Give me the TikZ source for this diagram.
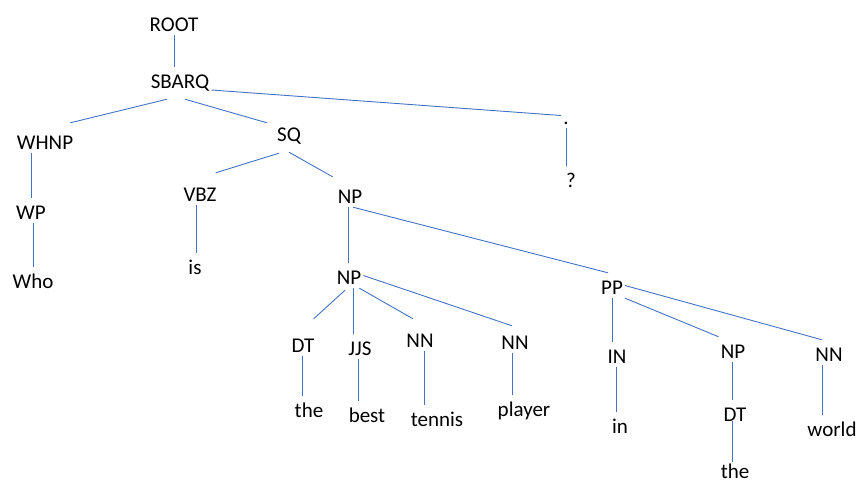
\documentclass[tikz,border=0pt]{standalone}
\usepackage{fontspec}
\setmainfont{Carlito}
\definecolor{edgeblue}{HTML}{4472C4}
\tikzset{
  tag/.style={anchor=base, inner xsep=2pt, inner ysep=4pt, text height=17pt, text depth=0pt, font=\fontsize{21}{25}\selectfont},
  edge/.style={edgeblue, line width=0.9pt}
}

\begin{document}
\begin{tikzpicture}[x=1pt,y=-1pt]
    % page frame
    \useasboundingbox (0,0) rectangle (858,482);

    % phrase and tag labels
    \node[tag] (root) at (174,31) {ROOT};
    \node[tag] (sbarq) at (180,88) {SBARQ};
    \node[tag] (whnp) at (45,149) {WHNP};
    \node[tag] (sq) at (289,141) {SQ};
    \node[tag] (dot) at (566,124) {.};
    \node[tag] (wp) at (31,219) {WP};
    \node[tag] (vbz) at (200,201) {VBZ};
    \node[tag] (np) at (350,203) {NP};
    \node[tag] (qmark) at (571,187) {?};
    \node[tag] (npa) at (349,284) {NP};
    \node[tag] (pp) at (612,294) {PP};
    \node[tag] (dt) at (303,352) {DT};
    \node[tag] (jjs) at (360,355) {JJS};
    \node[tag] (nna) at (420,347) {NN};
    \node[tag] (nnb) at (515,349) {NN};
    \node[tag] (tin) at (617,363) {IN};
    \node[tag] (npb) at (733,358) {NP};
    \node[tag] (nnc) at (829,361) {NN};
    \node[tag] (dtb) at (735,421) {DT};

    % words
    \node[tag] (who) at (33,288) {Who};
    \node[tag] (wis) at (195,274) {is};
    \node[tag] (wthe) at (309,417) {the};
    \node[tag] (best) at (367,422) {best};
    \node[tag] (tennis) at (437,426) {tennis};
    \node[tag] (player) at (524,416) {player};
    \node[tag] (win) at (620,433) {in};
    \node[tag] (theb) at (735,478) {the};
    \node[tag] (world) at (832,436) {world};

    % branches
    \draw[edge] (root.south) -- (root.south |- sbarq.north);
    \draw[edge] ([xshift=-13pt,yshift=-7pt]sbarq.south) -- ([xshift=-5pt,yshift=5pt]whnp.north east);
    \draw[edge] ([xshift=5pt,yshift=-7pt]sbarq.south) -- ([xshift=-8pt,yshift=-3pt]sq.north west);
    \draw[edge] ([yshift=-2pt]sbarq.base east) -- (dot.west);
    \draw[edge] (dot.south) -- (dot.south |- qmark.north);
    \draw[edge] (wp.north |- whnp.south) -- (wp.north);
    \draw[edge] ([xshift=2pt]wp.south) -- ([xshift=2pt]wp.south |- who.north);
    \draw[edge] ([xshift=-10pt,yshift=-8pt]sq.south) -- ([xshift=-3pt,yshift=7pt]vbz.north east);
    \draw[edge] ([yshift=-7pt]sq.south) -- ([xshift=-3pt,yshift=5pt]np.north west);
    \draw[edge] ([xshift=-4pt]vbz.south) -- ([xshift=-4pt]vbz.south |- wis.north);
    \draw[edge] ([xshift=-2pt]np.south) -- ([xshift=-2pt]np.south |- npa.north);
    \draw[edge] ([xshift=3pt]np.south) -- ([xshift=-4pt]pp.north);
    \draw[edge] ([xshift=-4pt,yshift=-2pt]npa.south) -- ([xshift=-3pt,yshift=12pt]dt.north east);
    \draw[edge] ([xshift=4pt]npa.south) -- ([xshift=4pt]npa.south |- jjs.north);
    \draw[edge] ([xshift=-4pt]npa.south east) -- ([xshift=-7pt,yshift=7pt]nna.north);
    \draw[edge] (npa.east) -- ([xshift=-3pt,yshift=2pt]nnb.north);
    \draw[edge] ([xshift=-1pt]dt.south) -- ([xshift=-1pt]dt.south |- wthe.north);
    \draw[edge] ([xshift=-2pt]jjs.south) -- ([xshift=-2pt]jjs.south |- best.north);
    \draw[edge] ([xshift=4pt]nna.south) -- ([xshift=4pt]nna.south |- tennis.north);
    \draw[edge] ([xshift=-3pt]nnb.south) -- ([xshift=-3pt]nnb.south |- player.north);
    \draw[edge] ([xshift=-5pt]tin.north |- pp.south) -- ([xshift=-5pt]tin.north);
    \draw[edge] (pp.south east) -- (npb.north west);
    \draw[edge] (pp.east) -- ([xshift=-7pt]nnc.north);
    \draw[edge] ([xshift=-1pt]tin.south) -- ([xshift=-1pt]tin.south |- win.north);
    \draw[edge] ([xshift=-1pt]npb.south) -- ([xshift=-1pt]npb.south |- dtb.north);
    \draw[edge] ([xshift=-3pt]dtb.base) -- ([xshift=-3pt,yshift=-5pt]dtb.base |- theb.north);
    \draw[edge] ([xshift=-7pt]nnc.south) -- ([xshift=-7pt]nnc.south |- world.north);
\end{tikzpicture}
\end{document}
